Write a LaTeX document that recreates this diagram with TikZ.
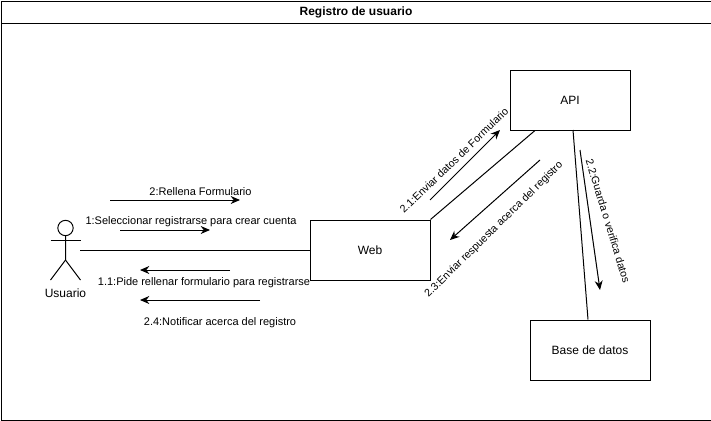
\documentclass[tikz,border=0pt]{standalone}
\usepackage{fontspec}
\setmainfont{Liberation Sans}
\usetikzlibrary{positioning,arrows.meta}
\tikzset{
    box/.style={draw,minimum height=45pt,minimum width=90pt,inner sep=0pt},
    msg/.style={font=\fontsize{8.25}{10}\selectfont,inner sep=0pt},
    slanted/.style={font=\fontsize{8}{10}\selectfont,inner sep=0pt},
}

\begin{document}
\begin{tikzpicture}[x=0.75pt,y=-0.75pt,line width=0.75pt,>={Stealth[length=7pt,width=6pt]},
    font=\fontsize{9}{11}\selectfont]
\useasboundingbox (0,0) rectangle (711,421);
% frame and title
\draw
    node [draw,minimum height=298.2pt,minimum width=532.5pt,inner sep=0pt,anchor=north west] (frame) at (0.5,22.5) {};
\draw
    node [draw,minimum height=16.5pt,minimum width=532.5pt,inner sep=0pt,anchor=north west,font=\fontsize{9}{11}\selectfont\bfseries] (title) at (0.5,0.5) {Registro de usuario};
\draw
    node [box] (api) at (570,100) {\raisebox{-0.7pt}{API}}
    node [box] (web) at (370,250) {Web}
    node [box] (bd) at (590,350) {Base de datos};
% actor
\draw
    node [draw,circle,minimum size=11.5pt,inner sep=0pt] (head) at (65.5,228) {};
\coordinate (hip) at (65.5,260);
\draw (head.south) -- (hip) -- (50.5,280);
\draw (hip) -- (80.5,280);
\draw (50.5,240) -- (80.5,240);
\node [below=21pt of hip,inner sep=0pt] (usuario) {Usuario};
\coordinate (actorside) at (80,250);
% links
\draw (actorside) -- (web.west);
\draw (web.north east) -- (api.south west -| 535,130);
\draw (573,130) -- (bd.north -| 588,320);
% messages, left side
\coordinate (a1) at (110,200); \coordinate (a2) at (240,200);
\draw (a1) [->] -- (a2);
\node [msg] (rellena) at (200.5,191.5) {2:Rellena Formulario};
\coordinate (b1) at (120,230); \coordinate (b2) at (210,230);
\draw (b1) [->] -- (b2);
\node [msg] (selec) at (191,221.5) {1:Seleccionar registrarse para crear cuenta};
\coordinate (c1) at (230,270); \coordinate (c2) at (140,270);
\draw (c1) [->] -- (c2);
\node [msg] (pide) at (204,282.5) {1.1:Pide rellenar formulario para registrarse};
\coordinate (d1) at (260,300); \coordinate (d2) at (140,300);
\draw (d1) [->] -- (d2);
\node [msg] (notif) at (220,322.5) {2.4:Notificar acerca del registro};
% messages, right side
\coordinate (e1) at (430,200); \coordinate (e2) at (500,130);
\draw (e1) [->] -- (e2);
\node [slanted,rotate=44] (enviar) at (454,160.5) {2.1:Enviar datos de Formulario};
\coordinate (f1) at (540,160); \coordinate (f2) at (450,240);
\draw (f1) [->] -- (f2);
\node [slanted,rotate=44.5] (resp) at (494,229.5) {2.3:Enviar respuesta acerca del registro};
\coordinate (g1) at (580,150); \coordinate (g2) at (600,290);
\draw (g1) [->] -- (g2);
\node [slanted,rotate=-73] (guarda) at (608,221) {2.2:Guarda o verifica datos};
\end{tikzpicture}
\end{document}
